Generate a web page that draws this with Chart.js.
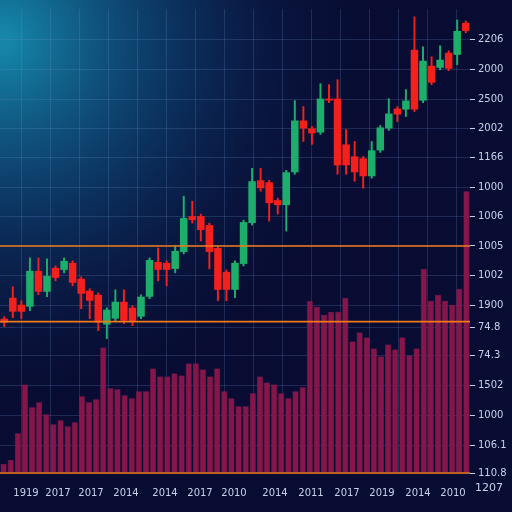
<!DOCTYPE html>
<html>
<head>
<meta charset="utf-8">
<script src="https://cdn.jsdelivr.net/npm/chart.js@4/dist/chart.umd.min.js"></script>
<style>
  html, body { margin: 0; padding: 0; background: #080c33; }
  #wrap { width: 512px; height: 512px; }
</style>
</head>
<body>
<div id="wrap"><canvas id="chart" width="512" height="512"></canvas></div>
<script>
// candles (price levels)
const opens  = [155,176,169,167,203,182,206,204,211,195,183,179,149,155,172,166,157,177,212,211,205,222,258,258,249,226,202,184,210,251,294,292,274,269,302,354,346,342,376,376,330,318,316,298,324,346,366,365,425,374,409,407,422,420,452];
const closes = [151,162,162,203,182,198,196,213,191,180,173,151,164,172,153,152,177,214,204,204,223,256,254,244,222,184,184,211,252,293,286,271,269,302,354,346,341,376,374,309,309,302,298,324,347,361,360,374,365,414,392,415,406,444,444];
const highs  = [157,187,173,216,216,215,208,216,213,197,185,181,166,184,184,168,179,216,226,213,228,278,273,260,251,228,204,213,254,306,306,294,276,304,374,368,348,391,390,395,345,333,318,333,349,376,368,385,458,428,418,429,424,455,454];
const lows   = [147,156,155,163,179,177,193,201,188,165,155,143,135,153,150,148,155,175,193,188,201,220,251,233,205,173,173,176,208,249,283,253,260,243,300,333,330,340,372,300,300,293,286,296,322,344,353,358,363,372,390,405,404,410,442];

// volume
const volumes = [9,13,40,89,66,71,59,49,53,47,51,77,71,74,126,85,84,78,75,82,82,105,97,97,100,98,110,110,104,97,105,82,75,67,67,80,97,91,89,80,75,82,86,173,167,159,162,162,176,132,141,136,125,117,129,124,136,118,125,205,173,179,173,169,185,283];

// axis labels
const yTickValues = [435,405,375,346,317,287,258,228,198,168,146,118,88,58,28,0];
const yTickLabels = ["2206","2000","2500","2002","1166","1000","1006","1005","1002","1900","74.8","74.3","1502","1000","106.1","110.8"];
const xTickValues = [26,58,91,126,165,200,234,275,311,347,382,418,453];
const xTickLabels = ["1919","2017","2017","2014","2014","2017","2010","2014","2011","2017","2019","2014","2010"];
const cornerLabel = "1207";
const levelLines = [228,152,0];

const GREEN = '#1eae6c', RED = '#f3201c';
const candleColors = opens.map((o, i) => closes[i] >= o ? GREEN : RED);

const bgPlugin = {
    id: 'bg',
    beforeDraw(chart) {
        const c = chart.ctx;
        c.save();
        c.fillStyle = '#080c33';
        c.fillRect(0, 0, chart.width, chart.height);
        const g = c.createRadialGradient(0, 40, 10, 0, 40, 380);
        g.addColorStop(0, 'rgba(22,140,175,0.95)');
        g.addColorStop(0.45, 'rgba(14,75,125,0.6)');
        g.addColorStop(1, 'rgba(8,12,51,0)');
        c.fillStyle = g;
        c.fillRect(0, 0, chart.width, chart.height);
        c.restore();
    },
    afterDatasetsDraw(chart) {
        const c = chart.ctx, a = chart.chartArea, y = chart.scales.y;
        c.save();
        c.strokeStyle = '#f07a1a';
        c.lineWidth = 1.6;
        levelLines.forEach(v => {
            const py = y.getPixelForValue(v);
            c.beginPath(); c.moveTo(0, py); c.lineTo(a.right, py); c.stroke();
        });
        c.fillStyle = '#c8d0e8';
        c.font = '11px "DejaVu Sans"';
        c.textAlign = 'left';
        c.fillText(cornerLabel, 475, 491);
        c.restore();
    }
};

new Chart(document.getElementById('chart'), {
    data: {
        labels: volumes.map((_, i) => i),
        datasets: [
            {
                type: 'bar', xAxisID: 'x', yAxisID: 'y',
                data: volumes,
                backgroundColor: '#86164a',
                borderColor: '#a01e56', borderWidth: 0.5,
                barPercentage: 0.84, categoryPercentage: 1, grouped: false,
                order: 3
            },
            {
                type: 'bar', xAxisID: 'x2', yAxisID: 'y',
                data: opens.map((o, i) => ({ x: i, y: [lows[i], highs[i]] })),
                backgroundColor: candleColors,
                barThickness: 1.3, grouped: false,
                order: 2
            },
            {
                type: 'bar', xAxisID: 'x2', yAxisID: 'y',
                data: opens.map((o, i) => ({ x: i, y: [o, closes[i] === o ? o + 2 : closes[i]] })),
                backgroundColor: candleColors,
                barPercentage: 0.88, categoryPercentage: 1, grouped: false,
                order: 1
            }
        ]
    },
    options: {
        responsive: false,
        animation: false,
        layout: { padding: 0 },
        plugins: { legend: { display: false }, tooltip: { enabled: false } },
        scales: {
            x: { display: false, offset: true },
            x2: { type: 'category', labels: opens.map((_, i) => i), display: false, offset: true },
            xg: {
                type: 'linear', position: 'bottom', min: 0, max: 470,
                afterBuildTicks: s => { const t = []; for (let v = 21; v < 470; v += 29) t.push({ value: v }); s.ticks = t; },
                ticks: { display: false },
                grid: { color: 'rgba(110,150,210,0.22)', drawTicks: false },
                border: { display: false },
                afterFit: s => { s.height = 0; }
            },
            xl: {
                type: 'linear', position: 'bottom', min: 0, max: 470,
                afterBuildTicks: s => { s.ticks = xTickValues.map(v => ({ value: v })); },
                ticks: {
                    color: '#c8d0e8', font: { size: 10, family: 'DejaVu Sans' }, padding: 6,
                    maxRotation: 0, autoSkip: false,
                    callback: (v, i) => xTickLabels[i]
                },
                grid: { display: false },
                border: { display: false },
                afterFit: s => { s.height = 39; }
            },
            y: {
                position: 'right', min: 0, max: 466,
                afterBuildTicks: s => { s.ticks = yTickValues.map(v => ({ value: v })); },
                ticks: {
                    color: '#c8d0e8', font: { size: 10, family: 'DejaVu Sans' }, padding: 3,
                    autoSkip: false,
                    callback: (v, i) => yTickLabels[i]
                },
                grid: { color: 'rgba(110,150,210,0.22)', tickColor: '#c8d0e8', tickLength: 5 },
                border: { display: false },
                afterFit: s => { s.width = 42; }
            }
        }
    },
    plugins: [bgPlugin]
});
</script>
</body>
</html>
